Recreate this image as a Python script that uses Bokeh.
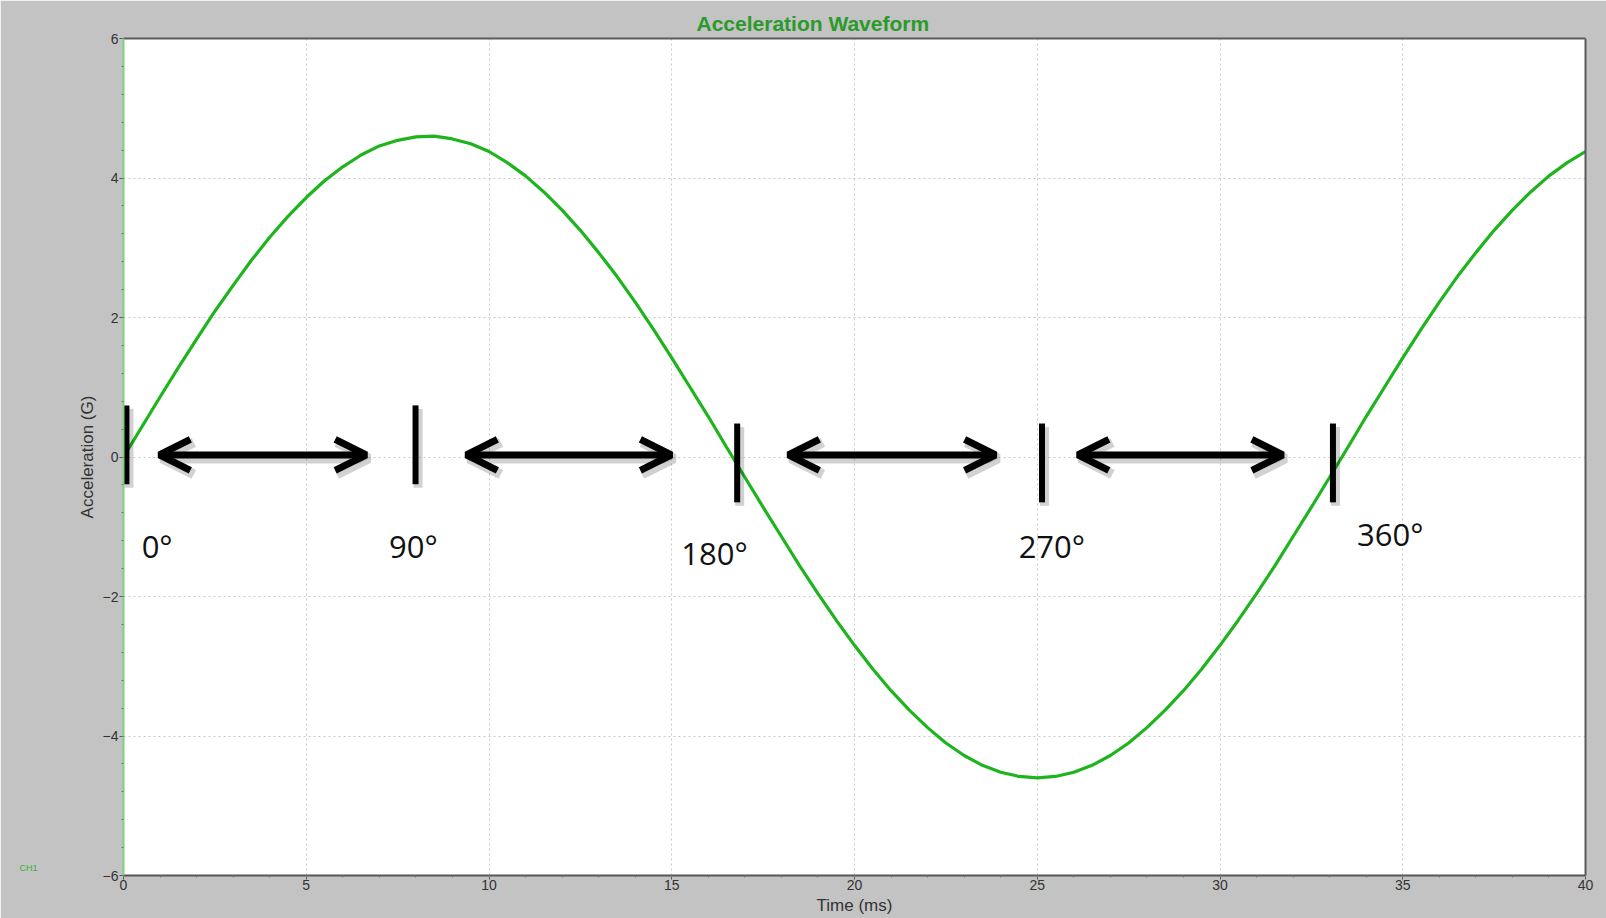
from bokeh.plotting import figure
from bokeh.models import (Arrow, OpenHead, FixedTicker, LinearAxis,
                          Range1d, ColumnDataSource, CustomJSTickFormatter)
from bokeh.core.properties import value
from bokeh.embed import file_html
from bokeh.resources import INLINE

# ---- data ----
time_ms = [0, 0.5, 1, 1.5, 2, 2.5, 3, 3.5, 4, 4.5, 5, 5.5, 6, 6.5, 7, 7.5, 8, 8.5,
           9, 9.5, 10, 10.5, 11, 11.5, 12, 12.5, 13, 13.5, 14, 14.5, 15, 15.5,
           16, 16.5, 17, 17.5, 18, 18.5, 19, 19.5, 20, 20.5, 21, 21.5, 22, 22.5,
           23, 23.5, 24, 24.5, 25, 25.5, 26, 26.5, 27, 27.5, 28, 28.5, 29, 29.5,
           30, 30.5, 31, 31.5, 32, 32.5, 33, 33.5, 34, 34.5, 35, 35.5, 36, 36.5,
           37, 37.5, 38, 38.5, 39, 39.5, 40]
accel_g = [0.00, 0.43, 0.86, 1.28, 1.69, 2.09, 2.46, 2.82, 3.15, 3.45, 3.72, 3.96,
           4.16, 4.33, 4.46, 4.54, 4.59, 4.60, 4.56, 4.49, 4.38, 4.22, 4.03, 3.80,
           3.54, 3.25, 2.93, 2.59, 2.22, 1.83, 1.42, 1.00, 0.58, 0.14, -0.29, -0.72,
           -1.14, -1.56, -1.96, -2.34, -2.70, -3.04, -3.35, -3.63, -3.88, -4.10,
           -4.28, -4.42, -4.52, -4.58, -4.60, -4.58, -4.52, -4.42, -4.28, -4.10,
           -3.88, -3.63, -3.35, -3.04, -2.70, -2.34, -1.96, -1.56, -1.14, -0.72,
           -0.29, 0.14, 0.58, 1.00, 1.42, 1.83, 2.22, 2.59, 2.93, 3.25, 3.54, 3.80,
           4.03, 4.22, 4.38]

x_ticks = [0, 5, 10, 15, 20, 25, 30, 35, 40]
y_ticks = [-6, -4, -2, 0, 2, 4, 6]
x_minor = list(range(0, 41))
y_minor = [round(-6 + 0.4 * i, 2) for i in range(31)]

# phase markers (ms) and their vertical extent (G)
marker_x = [0.08, 7.99, 16.79, 25.13, 33.09]
marker_top = [0.74, 0.74, 0.48, 0.48, 0.48]
marker_bottom = [-0.39, -0.39, -0.65, -0.65, -0.65]

# double arrows between markers (ms)
arrow_start = [0.98, 9.38, 18.19, 26.11]
arrow_end = [6.64, 14.99, 23.86, 31.72]
arrow_y = [0.03, 0.03, 0.03, 0.03]

# phase labels
phase_text = ["0°", "90°", "180°", "270°", "360°"]
phase_x = [0.92, 7.93, 16.17, 25.40, 34.66]
phase_y = [-1.28, -1.28, -1.37, -1.28, -1.10]

channel_label = "CH1"
channel_y = [-5.89]

GREEN = "#1eb41e"
BG = "#c3c3c3"

p = figure(width=1606, height=918, x_range=Range1d(0, 40), y_range=Range1d(-6, 6),
           output_backend="svg", toolbar_location=None,
           min_border_left=123, min_border_right=21, min_border_top=38,
           min_border_bottom=43)
p.border_fill_color = BG
p.background_fill_color = "white"
p.outline_line_color = None

# title
p.title.text = "Acceleration Waveform"
p.title.align = "left"
p.title.offset = 573
p.title.text_font = "Liberation Sans"
p.title.text_font_style = "bold"
p.title.text_font_size = "21px"
p.title.text_color = "#2a9a2a"
p.title.standoff = 8

# axes
p.xaxis.ticker = FixedTicker(ticks=x_ticks, minor_ticks=x_minor)
p.yaxis.ticker = FixedTicker(ticks=y_ticks, minor_ticks=y_minor)
for ax in (p.xaxis[0], p.yaxis[0]):
    ax.major_label_text_font = "Liberation Sans"
    ax.major_label_text_font_size = "14px"
    ax.major_label_text_color = "#333333"
    ax.major_tick_in = 0
    ax.major_tick_out = 4
    ax.minor_tick_in = 0
    ax.minor_tick_out = 2
    ax.major_tick_line_color = "#555555"
    ax.minor_tick_line_color = "#777777"
    ax.axis_label_text_font = "Liberation Sans"
    ax.axis_label_text_font_size = "17px"
    ax.axis_label_text_font_style = "normal"
    ax.axis_label_text_color = "#333333"
p.xaxis.axis_label = "Time (ms)"
p.xaxis.major_label_standoff = 0
p.xaxis.axis_label_standoff = 3
p.xaxis.axis_line_color = "#555555"
p.xaxis.axis_line_width = 2
p.yaxis.axis_label = "Acceleration (G)"
p.yaxis.major_label_standoff = 1
p.yaxis.axis_label_standoff = 3
p.yaxis.axis_line_color = "#7dd37d"
p.yaxis.axis_line_width = 2

# small channel tag at the lower left
ch_axis = LinearAxis(ticker=FixedTicker(ticks=channel_y, minor_ticks=[]),
                     formatter=CustomJSTickFormatter(code="return '%s';" % channel_label))
ch_axis.axis_line_color = None
ch_axis.major_tick_line_color = None
ch_axis.major_tick_out = 0
ch_axis.major_tick_in = 0
ch_axis.minor_tick_out = 0
ch_axis.major_label_standoff = 37
ch_axis.major_label_text_font = "Liberation Sans"
ch_axis.major_label_text_font_size = "9px"
ch_axis.major_label_text_color = "#39b439"
p.add_layout(ch_axis, "left")

# frame borders top / right
for loc in ("above", "right"):
    ax = LinearAxis(ticker=FixedTicker(ticks=[], minor_ticks=[]))
    ax.axis_line_color = "#5a5a5a"
    ax.axis_line_width = 2
    ax.major_tick_line_color = None
    ax.minor_tick_line_color = None
    ax.major_tick_out = 0
    ax.minor_tick_out = 0
    ax.major_label_standoff = 0
    ax.major_label_text_font_size = "0px"
    p.add_layout(ax, loc)

# grid
p.xgrid.grid_line_color = "#c9c9c9"
p.xgrid.grid_line_dash = "2 3"
p.ygrid.grid_line_color = "#c9c9c9"
p.ygrid.grid_line_dash = "2 3"

# waveform
p.line(time_ms, accel_g, line_color=GREEN, line_width=3.2)

# marker bars with soft shadow
shadow_dx = 0.07
shadow_dy = -0.05
p.segment([x + shadow_dx for x in marker_x], [t + shadow_dy for t in marker_top],
          [x + shadow_dx for x in marker_x], [b + shadow_dy for b in marker_bottom],
          line_color="black", line_alpha=0.18, line_width=9)
p.segment(marker_x, marker_top, marker_x, marker_bottom,
          line_color="black", line_width=6)

# arrows (shadow first)
shadow_src = ColumnDataSource(dict(
    xs=[x + shadow_dx for x in arrow_start], xe=[x + shadow_dx for x in arrow_end],
    ys=[y + shadow_dy for y in arrow_y], ye=[y + shadow_dy for y in arrow_y]))
p.add_layout(Arrow(source=shadow_src, x_start="xs", y_start="ys", x_end="xe", y_end="ye",
                   line_color="black", line_alpha=0.18, line_width=10,
                   start=OpenHead(size=32, line_width=10, line_color="black", line_alpha=0.18),
                   end=OpenHead(size=32, line_width=10, line_color="black", line_alpha=0.18)))
arrow_src = ColumnDataSource(dict(xs=arrow_start, xe=arrow_end, ys=arrow_y, ye=arrow_y))
p.add_layout(Arrow(source=arrow_src, x_start="xs", y_start="ys", x_end="xe", y_end="ye",
                   line_color="black", line_width=7,
                   start=OpenHead(size=31, line_width=7, line_color="black"),
                   end=OpenHead(size=31, line_width=7, line_color="black")))

# phase labels
p.text(phase_x, phase_y, text=phase_text, text_font=value("Open Sans"),
       text_font_size="31px", text_color="#111111", text_align="center",
       text_baseline="middle")

open("out.html", "w").write(file_html(p, INLINE))
